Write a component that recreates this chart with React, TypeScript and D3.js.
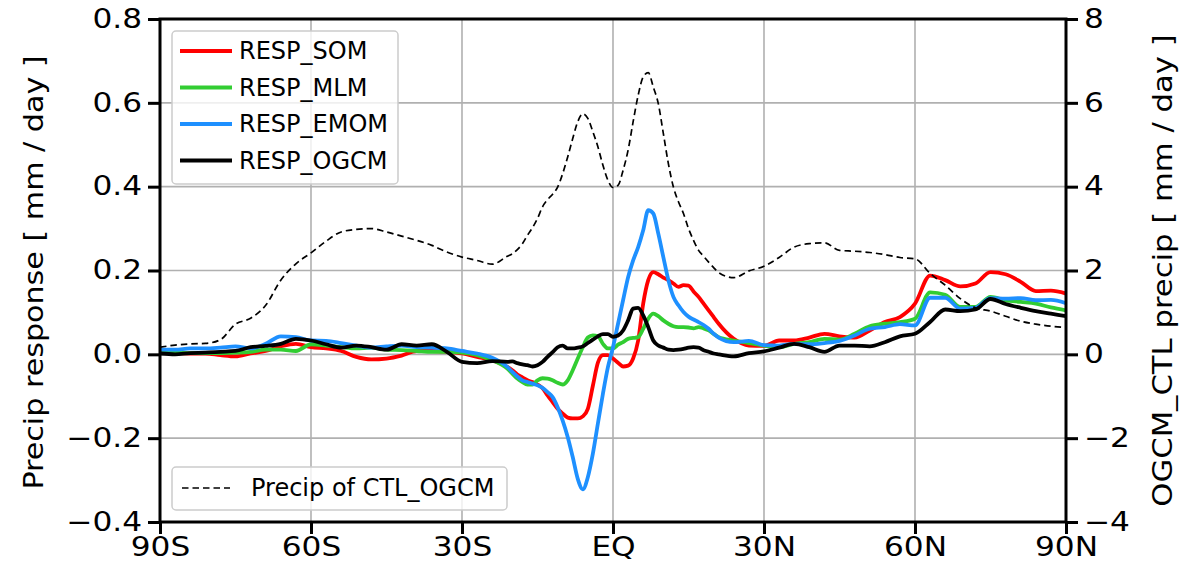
import React, { useEffect, useRef } from 'react';
import * as d3 from 'd3';

// latitude grid (deg), coarser outside the tropics
const lats = [
  -90, -87, -84, -81, -78, -75, -72, -69, -66, -63, -60, -57, -54, -51, -48, -45, -42, -39, -36, -33, -30, -27, -24, -21,
  -20, -19, -18, -17, -16, -15, -14, -13, -12, -11, -10, -9, -8, -7, -6, -5, -4, -3, -2, -1,
  0, 1, 2, 3, 4, 5, 6, 7, 8, 9, 10, 11, 12, 13, 14, 15, 16, 17, 18, 19, 20,
  21, 24, 27, 30, 33, 36, 39, 42, 45, 48, 51, 54, 57, 60, 63, 66, 69, 72, 75, 78, 81, 84, 87, 90,
];

const respSOM = [
  0.006, 0.003, 0.002, 0.002, -0.002, -0.005, 0.002, 0.008, 0.019, 0.025, 0.017, 0.014, 0.008, -0.006, -0.012, -0.010, -0.003, 0.008, 0.008, 0.006, 0.002, -0.006, -0.014, -0.030,
  -0.038, -0.048, -0.055, -0.062, -0.066, -0.072, -0.081, -0.098, -0.114, -0.130,
  -0.141, -0.151, -0.153, -0.153, -0.148, -0.130, -0.075, -0.020, -0.002, -0.002,
  -0.010, -0.020, -0.029, -0.027, -0.010, 0.033, 0.121, 0.177, 0.196, 0.191, 0.183,
  0.177, 0.169, 0.161, 0.165, 0.164, 0.150, 0.137, 0.121, 0.105, 0.089,
  0.073, 0.037, 0.021, 0.020, 0.033, 0.033, 0.040, 0.049, 0.043, 0.040, 0.057, 0.077, 0.089, 0.121, 0.188, 0.177, 0.162, 0.169, 0.196, 0.191, 0.173, 0.151, 0.152, 0.145,
];

const respMLM = [
  0.006, 0.004, 0.003, 0.003, 0.003, 0.004, 0.006, 0.011, 0.011, 0.008, 0.024, 0.021, 0.017, 0.014, 0.016, 0.011, 0.010, 0.008, 0.006, 0.006, 0.004, -0.002, -0.014, -0.034,
  -0.046, -0.058, -0.066, -0.072, -0.072, -0.062, -0.057, -0.058, -0.062, -0.068,
  -0.072, -0.062, -0.038, -0.010, 0.017, 0.040, 0.045, 0.043, 0.025, 0.014,
  0.014, 0.023, 0.029, 0.037, 0.039, 0.041, 0.061, 0.085, 0.097, 0.091, 0.081,
  0.073, 0.067, 0.065, 0.065, 0.064, 0.062, 0.065, 0.062, 0.057, 0.049,
  0.041, 0.033, 0.027, 0.021, 0.017, 0.025, 0.029, 0.037, 0.035, 0.049, 0.067, 0.073, 0.077, 0.085, 0.148, 0.142, 0.113, 0.113, 0.137, 0.129, 0.125, 0.121, 0.112, 0.105,
];

const respEMOM = [
  0.011, 0.011, 0.014, 0.014, 0.016, 0.019, 0.014, 0.025, 0.043, 0.041, 0.033, 0.032, 0.027, 0.021, 0.016, 0.019, 0.021, 0.017, 0.016, 0.014, 0.008, 0.002, -0.008, -0.030,
  -0.042, -0.053, -0.062, -0.066, -0.070, -0.074, -0.080, -0.090, -0.102, -0.126,
  -0.158, -0.197, -0.245, -0.297, -0.322, -0.293, -0.237, -0.165, -0.094, -0.030,
  0.017, 0.073, 0.129, 0.184, 0.224, 0.256, 0.296, 0.344, 0.336, 0.288, 0.232,
  0.177, 0.137, 0.117, 0.101, 0.090, 0.083, 0.077, 0.070, 0.061, 0.049,
  0.040, 0.029, 0.032, 0.022, 0.021, 0.025, 0.024, 0.027, 0.032, 0.045, 0.061, 0.065, 0.072, 0.069, 0.135, 0.135, 0.109, 0.111, 0.134, 0.133, 0.134, 0.129, 0.130, 0.122,
];

const respOGCM = [
  0.002, 0.000, 0.003, 0.004, 0.006, 0.008, 0.017, 0.020, 0.025, 0.037, 0.033, 0.024, 0.016, 0.021, 0.017, 0.011, 0.024, 0.021, 0.024, 0.006, -0.018, -0.021, -0.016, -0.018,
  -0.017, -0.021, -0.024, -0.026, -0.029, -0.026, -0.018, -0.006, 0.005, 0.017,
  0.021, 0.014, 0.014, 0.016, 0.019, 0.027, 0.035, 0.043, 0.048, 0.048,
  0.042, 0.045, 0.057, 0.081, 0.109, 0.111, 0.093, 0.065, 0.033, 0.021, 0.016,
  0.011, 0.010, 0.011, 0.013, 0.016, 0.017, 0.016, 0.010, 0.006, 0.002,
  0.000, -0.005, 0.003, 0.007, 0.016, 0.025, 0.017, 0.006, 0.021, 0.021, 0.019, 0.029, 0.043, 0.049, 0.077, 0.107, 0.103, 0.107, 0.132, 0.120, 0.111, 0.103, 0.097, 0.091,
];

// control precipitation (right axis, mm/day)
const ctlPrecip = [
  0.17, 0.22, 0.25, 0.26, 0.35, 0.72, 0.86, 1.17, 1.77, 2.16, 2.42, 2.70, 2.92, 2.98, 3.00, 2.92, 2.82, 2.72, 2.60, 2.44, 2.32, 2.24, 2.15, 2.34,
  2.40, 2.50, 2.64, 2.84, 3.02, 3.24, 3.52, 3.69, 3.82, 3.99,
  4.31, 4.71, 5.15, 5.55, 5.74, 5.63, 5.31, 4.95, 4.51, 4.15,
  3.98, 4.03, 4.39, 4.87, 5.55, 6.18, 6.62, 6.72, 6.38, 5.98, 5.27,
  4.55, 3.99, 3.64, 3.36, 3.00, 2.72, 2.48, 2.34, 2.20, 2.07,
  1.95, 1.83, 1.99, 2.10, 2.31, 2.56, 2.64, 2.66, 2.48, 2.46, 2.43, 2.38, 2.31, 2.28, 1.93, 1.65, 1.33, 1.11, 1.03, 0.91, 0.79, 0.72, 0.67, 0.64,
];

const seriesNames = ['RESP_SOM', 'RESP_MLM', 'RESP_EMOM', 'RESP_OGCM'];
const seriesColors = ['#ff0000', '#32cd32', '#1e90ff', '#000000'];
const xTicks = [-90, -60, -30, 0, 30, 60, 90];
const xTickLabels = ['90S', '60S', '30S', 'EQ', '30N', '60N', '90N'];
const leftTicks = [-0.4, -0.2, 0, 0.2, 0.4, 0.6, 0.8];
const rightTicks = [-4, -2, 0, 2, 4, 6, 8];

const FONT = 'DejaVu Sans, sans-serif';
const STRETCH = 1.2; // tick/axis label text is drawn a bit wider in the original

const App = () => {
  const ref = useRef<SVGSVGElement>(null);

  useEffect(() => {
    document.body.style.margin = '0';
    const svg = d3.select(ref.current);
    svg.selectAll('*').remove();

    const left = 160, right = 1066, top = 19, bottom = 522;
    const x = d3.scaleLinear().domain([-90, 90]).range([left, right]);
    const y = d3.scaleLinear().domain([-0.4, 0.8]).range([bottom, top]);
    const y2 = d3.scaleLinear().domain([-4, 8]).range([bottom, top]);

    svg.append('defs').append('clipPath').attr('id', 'plot-clip')
      .append('rect').attr('x', left).attr('y', top).attr('width', right - left).attr('height', bottom - top);

    // grid
    const grid = svg.append('g').attr('stroke', '#b0b0b0').attr('stroke-width', 1.6);
    grid.selectAll('.vg').data(xTicks.slice(1, -1)).enter().append('line')
      .attr('x1', d => x(d)).attr('x2', d => x(d)).attr('y1', top).attr('y2', bottom);
    grid.selectAll('.hg').data(leftTicks.slice(1, -1)).enter().append('line')
      .attr('x1', left).attr('x2', right).attr('y1', d => y(d)).attr('y2', d => y(d));

    // response lines
    const series = [respSOM, respMLM, respEMOM, respOGCM];
    const plot = svg.append('g').attr('clip-path', 'url(#plot-clip)');
    series.forEach((vals, i) => {
      const line = d3.line<number>()
        .x((_, j) => x(lats[j]))
        .y(d => y(d))
        .curve(d3.curveMonotoneX);
      plot.append('path').datum(vals)
        .attr('d', line)
        .attr('fill', 'none')
        .attr('stroke', seriesColors[i])
        .attr('stroke-width', 3.8)
        .attr('stroke-linejoin', 'round');
    });

    // control precip, right axis
    const line2 = d3.line<number>()
      .x((_, j) => x(lats[j]))
      .y(d => y2(d))
      .curve(d3.curveMonotoneX);
    plot.append('path').datum(ctlPrecip)
      .attr('d', line2)
      .attr('fill', 'none')
      .attr('stroke', '#000')
      .attr('stroke-width', 1.7)
      .attr('stroke-dasharray', '6.5,4');

    // axes
    const styleAxis = (g: any) => {
      g.select('.domain').remove();
      g.selectAll('.tick line').attr('stroke', '#000').attr('stroke-width', 3);
      g.selectAll('.tick text')
        .attr('font-family', FONT).attr('font-size', 26).attr('fill', '#000')
        .attr('x', function (this: SVGTextElement) { return +(this.getAttribute('x') || 0) / STRETCH; })
        .attr('transform', `scale(${STRETCH},1)`);
    };

    svg.append('g').attr('transform', `translate(0,${bottom})`)
      .call(d3.axisBottom(x).tickValues(xTicks).tickFormat((_, i) => xTickLabels[i]).tickSize(12).tickPadding(4))
      .call(styleAxis);

    svg.append('g').attr('transform', `translate(${left},0)`)
      .call(d3.axisLeft(y).tickValues(leftTicks).tickFormat(d3.format('.1f')).tickSize(12).tickPadding(6))
      .call(styleAxis);

    svg.append('g').attr('transform', `translate(${right},0)`)
      .call(d3.axisRight(y2).tickValues(rightTicks).tickFormat(d3.format('d')).tickSize(12).tickPadding(6))
      .call(styleAxis);

    // spines
    svg.append('rect')
      .attr('x', left).attr('y', top).attr('width', right - left).attr('height', bottom - top)
      .attr('fill', 'none').attr('stroke', '#000').attr('stroke-width', 3);

    // axis labels
    svg.append('text')
      .attr('transform', `translate(34,${(top + bottom) / 2 + 2}) rotate(-90) scale(1.16,1)`)
      .attr('text-anchor', 'middle').attr('dominant-baseline', 'central')
      .attr('font-family', FONT).attr('font-size', 26)
      .text('Precip response [ mm / day ]');

    svg.append('text')
      .attr('transform', `translate(1163,${(top + bottom) / 2}) rotate(-90) scale(1.18,1)`)
      .attr('text-anchor', 'middle').attr('dominant-baseline', 'central')
      .attr('font-family', FONT).attr('font-size', 26)
      .text('OGCM_CTL precip [ mm / day ]');

    // legend, responses
    const lg = svg.append('g');
    lg.append('rect').attr('x', 172).attr('y', 31).attr('width', 226).attr('height', 153).attr('rx', 4)
      .attr('fill', '#fff').attr('fill-opacity', 0.8).attr('stroke', '#cccccc').attr('stroke-width', 1.5);
    seriesNames.forEach((name, i) => {
      const ly = 51 + i * 36.5;
      lg.append('line').attr('x1', 180).attr('x2', 232).attr('y1', ly).attr('y2', ly)
        .attr('stroke', seriesColors[i]).attr('stroke-width', 3.8);
      lg.append('text').attr('x', 239).attr('y', ly).attr('dominant-baseline', 'central')
        .attr('font-family', FONT).attr('font-size', 24).text(name);
    });

    // legend, control
    const lg2 = svg.append('g');
    lg2.append('rect').attr('x', 172).attr('y', 467).attr('width', 335).attr('height', 43).attr('rx', 4)
      .attr('fill', '#fff').attr('fill-opacity', 0.8).attr('stroke', '#cccccc').attr('stroke-width', 1.5);
    lg2.append('line').attr('x1', 182).attr('x2', 230).attr('y1', 488).attr('y2', 488)
      .attr('stroke', '#000').attr('stroke-width', 1.7).attr('stroke-dasharray', '6.5,4');
    lg2.append('text').attr('x', 251).attr('y', 488).attr('dominant-baseline', 'central')
      .attr('font-family', FONT).attr('font-size', 24).text('Precip of CTL_OGCM');
  }, []);

  return <svg ref={ref} width={1201} height={581} style={{ display: 'block' }} />;
};

export default App;
